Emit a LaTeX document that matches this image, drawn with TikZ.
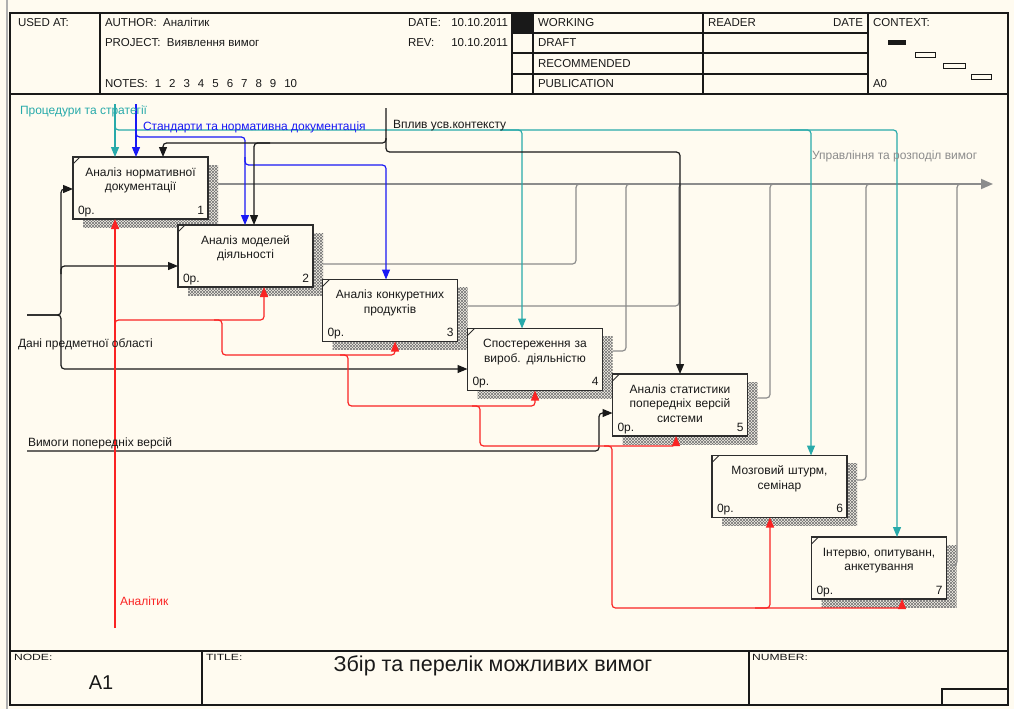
\documentclass[tikz,border=0pt]{standalone}
\usepackage{fontspec}
\setmainfont{Liberation Sans}
\newfontfamily\widesf[FakeStretch=1.35]{Liberation Sans}
\usetikzlibrary{arrows.meta,patterns,shadows,calc}

\definecolor{paper}{RGB}{255,251,240}
\definecolor{ink}{RGB}{25,25,25}
\definecolor{boxline}{RGB}{45,45,45}
\definecolor{ctrlteal}{RGB}{40,170,170}
\definecolor{ctrlblue}{RGB}{25,25,245}
\definecolor{mechred}{RGB}{250,35,35}
\definecolor{outgray}{RGB}{140,140,140}
\definecolor{edgegray}{RGB}{175,175,175}

% hatched drop shadow of the activity boxes
\pgfdeclarepatternformonly{shadowhatch}{\pgfqpoint{-1pt}{-1pt}}{\pgfqpoint{4pt}{4pt}}{\pgfqpoint{3pt}{3pt}}{%
  \pgfsetlinewidth{0.5pt}%
  \pgfpathmoveto{\pgfqpoint{0pt}{0pt}}\pgfpathlineto{\pgfqpoint{3pt}{3pt}}%
  \pgfpathmoveto{\pgfqpoint{0pt}{3pt}}\pgfpathlineto{\pgfqpoint{3pt}{0pt}}%
  \pgfusepath{stroke}}

\tikzset{
  every node/.style={inner sep=0pt, outer sep=0pt, text=ink,
    font=\fontsize{12}{14.5}\selectfont},
  hdr/.style={font=\fontsize{11.5}{13}\selectfont},
  actbox/.style={draw=boxline, line width=1.4pt, fill=paper,
    minimum width=135pt, minimum height=62pt,
    general shadow={shadow xshift=10pt, shadow yshift=-8pt,
      pattern=shadowhatch, pattern color=black!55}},
  boxtitle/.style={text width=134pt, align=center, anchor=base},
  lbl/.style={anchor=base west},
  tip/.style={-{Triangle[length=10pt,width=8pt]}},
  conn/.style={line width=1.2pt, rounded corners=3.5pt},
  ctrlA/.style={conn, draw=ctrlteal},
  ctrlB/.style={conn, draw=ctrlblue},
  ctrlK/.style={conn, draw=ink},
  inK/.style={conn, draw=ink},
  mechR/.style={conn, draw=mechred},
  outG/.style={conn, draw=outgray},
  frameline/.style={draw=ink, line width=1.5pt},
  cellline/.style={draw=ink, line width=1.1pt},
  footk/.style={anchor=base west, font=\widesf\fontsize{9}{10}\selectfont},
}

% activity box: name, centre, title, number
\newcommand\actbox[4]{%
  \node[actbox] (#1) at (#2) {};
  \draw[boxline, line width=0.8pt] ([yshift=-7pt]#1.north west) -- ([xshift=7pt]#1.north west);
  \node[boxtitle] (#1t) at ([yshift=-19pt]#1.north) {#3};
  \node[anchor=base west] (#1c) at ([xshift=5pt,yshift=5pt]#1.south west) {0р.};
  \node[anchor=base east] (#1n) at ([xshift=-4pt,yshift=5pt]#1.south east) {#4};
}

\begin{document}
\begin{tikzpicture}[x=1pt, y=-1pt]
\fill[paper] (0,0) rectangle (1014,709);
\useasboundingbox (0,0) rectangle (1014,709);

% ---------- sheet frame ----------
\draw[edgegray, line width=2.5pt] (7,0) -- (7,709);
\draw[frameline] (10,13) rectangle (1008,705);
\draw[frameline] (10,94) -- (1008,94);
\draw[frameline] (10,651) -- (1008,651);

% header cells
\foreach \x in {100,512,533,703,868} \draw[cellline] (\x,13) -- (\x,94);
\foreach \y in {33,53,74} \draw[cellline] (512,\y) -- (868,\y);
\fill[ink] (512,13) rectangle (533,33);

\node[lbl, hdr] (usedat) at (18,27) {USED AT:};
\node[lbl, hdr] (author) at (105,27) {AUTHOR:\ \ Аналітик};
\node[lbl, hdr] (project) at (105,47) {PROJECT:\ \ Виявлення вимог};
\node[lbl, hdr] (notes) at (105,88) {NOTES:\hspace{7pt}1\hspace{8pt}2\hspace{8pt}3\hspace{8pt}4\hspace{8pt}5\hspace{8pt}6\hspace{8pt}7\hspace{8pt}8\hspace{8pt}9\hspace{8pt}10};
\node[lbl, hdr] (datek) at (408,27) {DATE:};
\node[anchor=base east, hdr] (datev) at (508,27) {10.10.2011};
\node[lbl, hdr] (revk) at (408,47) {REV:};
\node[anchor=base east, hdr] (revv) at (508,47) {10.10.2011};
\node[lbl, hdr] (working) at (538,27) {WORKING};
\node[lbl, hdr] (draft) at (538,47) {DRAFT};
\node[lbl, hdr] (recommended) at (538,67) {RECOMMENDED};
\node[lbl, hdr] (publication) at (538,88) {PUBLICATION};
\node[lbl, hdr] (reader) at (708,27) {READER};
\node[anchor=base east, hdr] (rdate) at (863,27) {DATE};
\node[lbl, hdr] (context) at (873,27) {CONTEXT:};
\node[lbl, hdr] (ctxnode) at (873,88) {A0};

% context map
\fill[ink] (888,40) rectangle (906,45);
\draw[ink, line width=0.9pt] (915,52) rectangle (935,57);
\draw[ink, line width=0.9pt] (943,63) rectangle (965,68);
\draw[ink, line width=0.9pt] (971,74) rectangle (991,79);

% footer
\foreach \x in {202,749} \draw[cellline] (\x,651) -- (\x,705);
\draw[cellline] (942,705) -- (942,689) -- (1008,689);
\node[footk] (fnode) at (14,660) {NODE:};
\node[footk] (ftitlek) at (206,660) {TITLE:};
\node[footk] (fnumber) at (752,660) {NUMBER:};
\node[anchor=base, font=\fontsize{20}{22}\selectfont] (fnodev) at (101,689) {A1};
\node[anchor=base, font=\fontsize{21.5}{24}\selectfont] (ftitle) at (493,671) {Збір та перелік можливих вимог};

% ---------- activity boxes ----------
\actbox{b1}{140.5,188}{Аналіз нормативної\\документації}{1}
\actbox{b2}{245.5,256}{Аналіз моделей\\діяльності}{2}
\actbox{b3}{390,310.5}{Аналіз конкуретних\\продуктів}{3}
\actbox{b4}{535,359.5}{Спостереження за\\вироб. діяльністю}{4}
\actbox{b5}{680,405}{Аналіз статистики\\попередніх версій\\системи}{5}
\actbox{b6}{779.5,486.5}{Мозговий штурм,\\семінар}{6}
\actbox{b7}{879,568}{Інтервю, опитуванн,\\анкетування}{7}

% ---------- boundary ends ----------
\coordinate (procIn) at (115,104);
\coordinate (stdIn) at (136,104);
\coordinate (ctxIn) at (386,108);
\coordinate (dataIn) at (27,315);
\coordinate (prevIn) at (27,451);
\coordinate (mechIn) at (115,628);
\coordinate (mgmtOut) at (993,184);

% ---------- outputs (grey), leaving each box past its shadow ----------
\draw[outG, line width=1.8pt, -{Triangle[length=12pt,width=10pt]}] ($(b1.east |- mgmtOut)+(10,0)$) -- (mgmtOut);
\coordinate (o2) at (576,264);
\coordinate (o3) at (679,306);
\coordinate (o4) at (626,351);
\coordinate (o5) at (770,398);
\coordinate (o6) at (866,480);
\coordinate (o7) at (957,565);
\foreach \o/\b in {o2/b2,o3/b3,o4/b4,o5/b5,o6/b6,o7/b7}
  \draw[outG] ($(\o -| \b.east)+(10,0)$) -- (\o) -- (\o |- mgmtOut) -- ++(4,0);

% ---------- controls ----------
\coordinate (t4) at (522,130);
\coordinate (t6) at (811,130);
\coordinate (t7) at (897,130);
\draw[ctrlA, tip] (procIn) -- (procIn |- b1.north);
\draw[ctrlA, tip] (115,122) |- (t4) -- (t4 |- b4.north);
\draw[ctrlA, tip] (500,130) -- (t6) -- (t6 |- b6.north);
\draw[ctrlA, tip] (790,130) -- (t7) -- (t7 |- b7.north);

\coordinate (s2) at (245,137);
\coordinate (s3) at (386,165);
\draw[ctrlB, tip] (stdIn) -- (stdIn |- b1.north);
\draw[ctrlB, tip] (136,129) |- (s2) -- (s2 |- b2.north);
\draw[ctrlB, tip] (245,157) |- (s3) -- (s3 |- b3.north);

\coordinate (k1) at (163,143);
\coordinate (k2) at (254,143);
\coordinate (k5) at (680,152);
\draw[ctrlK, tip] (ctxIn) -- (386,136) |- (k1) -- (k1 |- b1.north);
\draw[ctrlK, tip] (386,138) |- (k5) -- (k5 |- b5.north);
\draw[ctrlK, tip] (270,143) -- (k2) -- (k2 |- b2.north);

% ---------- inputs ----------
\coordinate (d1) at (61,189);
\coordinate (d2) at (61,266);
\coordinate (d4) at (61,369);
\draw[inK, tip] (dataIn) -| (d1) -- (d1 -| b1.west);
\draw[inK, tip] (dataIn) -| (d4) -- (d4 -| b4.west);
\draw[inK, tip] (61,274) -- (d2) -- (d2 -| b2.west);
\coordinate (p5) at (599,413);
\draw[inK, tip] (prevIn) -| (p5) -- (p5 -| b5.west);

% ---------- mechanisms ----------
\coordinate (m2) at (264,320);
\coordinate (m3) at (395,355);
\coordinate (m4) at (535,406);
\coordinate (m5) at (676,446);
\coordinate (m6) at (770,608);
\coordinate (m7) at (902,608);
\draw[mechR, tip] (mechIn) -- (mechIn |- b1.south);
\draw[mechR, tip] (115,328) |- (m2) -- (m2 |- b2.south);
\draw[mechR, tip] (214,320) -| (222,355) -- (m3) -- (m3 |- b3.south);
\draw[mechR, tip] (340,355) -| (348,406) -- (m4) -- (m4 |- b4.south);
\draw[mechR, tip] (472,406) -| (480,446) -- (m5) -- (m5 |- b5.south);
\draw[mechR, tip] (604,446) -| (612,608) -- (m7) -- (m7 |- b7.south);
\draw[mechR, tip] (755,608) -- (m6) -- (m6 |- b6.south);

% ---------- arrow labels ----------
\node[lbl, text=ctrlteal] (lproc) at (20,114) {Процедури та стратегії};
\node[lbl, text=ctrlblue] (lstd) at (143,130) {Стандарти та нормативна документація};
\node[lbl] (lctx) at (393,128) {Вплив усв.контексту};
\node[lbl, text=outgray] (lmgmt) at (812,159) {Управління та розподіл вимог};
\node[lbl] (ldata) at (18,347) {Дані предметної області};
\node[lbl] (lprev) at (28,446) {Вимоги попередніх версій};
\node[lbl, text=mechred] (lmech) at (120,605) {Аналітик};
\end{tikzpicture}
\end{document}
